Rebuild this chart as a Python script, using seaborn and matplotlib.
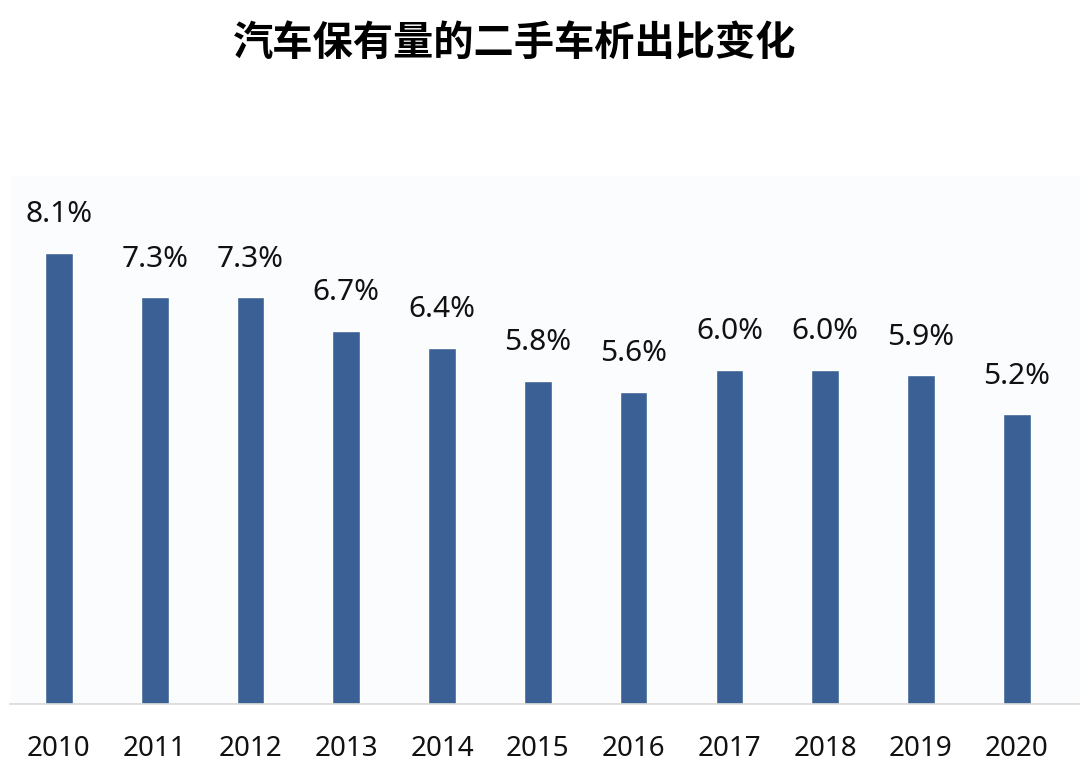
import matplotlib
matplotlib.use("Agg")
import matplotlib.pyplot as plt
import seaborn as sns
import pandas as pd

years = ["2010", "2011", "2012", "2013", "2014", "2015", "2016", "2017", "2018", "2019", "2020"]
ratios = [8.1, 7.3, 7.3, 6.7, 6.4, 5.8, 5.6, 6.0, 6.0, 5.9, 5.2]
title = "汽车保有量的二手车析出比变化"

sns.set_theme(style="white")
plt.rcParams['font.family'] = ['Noto Sans CJK SC', 'DejaVu Sans']

df = pd.DataFrame({"year": years, "ratio": ratios})

fig = plt.figure(figsize=(10.8, 7.8), dpi=100)
fig.patch.set_facecolor("white")
ax = fig.add_axes([10/1080, 76/780, 1 - 10/1080, (704-176)/780])
ax.set_facecolor("#FBFCFE")

sns.barplot(data=df, x="year", y="ratio", color="#3A6095", width=0.29,
            saturation=1, ax=ax)

for i, v in enumerate(ratios):
    ax.annotate(f"{v:.1f}%", (i, v), xytext=(0, 17), textcoords="offset points",
                ha="center", va="bottom", fontsize=21.5, color="#111111",
                family=['Noto Sans', 'DejaVu Sans'])

ax.set_xlim(-0.51, 10.66)
ax.set_ylim(0, 9.48)
ax.set_xlabel("")
ax.set_ylabel("")
ax.set_yticks([])
for s in ["top", "right", "left"]:
    ax.spines[s].set_visible(False)
ax.spines["bottom"].set_color("#D9D9D9")
ax.spines["bottom"].set_linewidth(1.2)
ax.tick_params(axis="x", length=0, pad=22, labelsize=20, labelcolor="#111111")
for lab in ax.get_xticklabels():
    lab.set_fontfamily(['Noto Sans', 'DejaVu Sans'])

fig.text(515/1080, 1 - 43/780, title, ha="center", va="center",
         fontsize=29, fontweight="bold", color="black")

fig.savefig("out.png", dpi=100)
